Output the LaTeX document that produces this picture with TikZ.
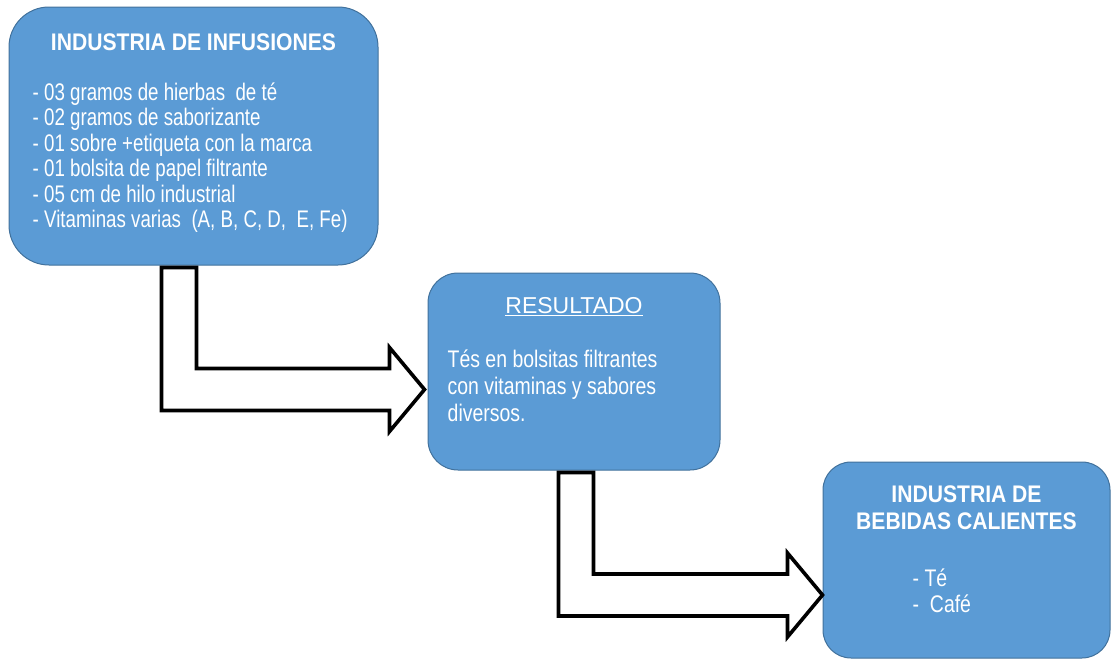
\documentclass[tikz,border=0pt]{standalone}
\usepackage{fontspec}
\setmainfont{Liberation Sans}
\newfontfamily\titlefont[FakeStretch=0.88]{Liberation Sans}
\newfontfamily\listfont[FakeStretch=0.78]{Liberation Sans}
\newfontfamily\bodyfont[FakeStretch=0.81]{Liberation Sans}
\usetikzlibrary{calc}
\definecolor{boxblue}{RGB}{91,155,213}
\definecolor{boxedge}{RGB}{65,113,156}

\begin{document}
\begin{tikzpicture}[x=1pt,y=-1pt,
	box/.style={draw=boxedge,line width=1pt,fill=boxblue,inner sep=0pt},
	head/.style={text=white,font=\titlefont\bfseries\fontsize{24}{27}\selectfont,anchor=base,inner sep=0pt},
	item/.style={text=white,font=\listfont\fontsize{24}{25}\selectfont,anchor=base west,inner sep=0pt},
	body/.style={text=white,font=\bodyfont\fontsize{24}{27}\selectfont,anchor=base west,inner sep=0pt},
	bent/.style={draw=black,line width=3.6pt,fill=white,line join=miter}]
		\useasboundingbox (0,0) rectangle (1111,667);
		
		% Draw boxes
		\node[box,rounded corners=40pt,minimum width=369pt,minimum height=258pt] (inf) at (193.5,136) {};
		\node[box,rounded corners=30pt,minimum width=292pt,minimum height=197pt] (res) at (574,371.5) {};
		\node[box,rounded corners=28pt,minimum width=287pt,minimum height=196pt] (beb) at (966.5,560) {};
		
		% Draw bent arrows
		\coordinate (s1) at ($(inf.south west)+(153,2)$);
		\coordinate (t1) at ($(res.west)+(-3,18)$);
		\coordinate (s2) at ($(res.south west)+(131,2)$);
		\coordinate (t2) at ($(beb.west)+(0,35)$);
		\foreach \s/\t in {s1/t1, s2/t2}{
			\draw[bent] (\s) -- ++(35,0) |- ($(\t)+(-35,-21)$) -- ($(\t)+(-35,-42)$) -- (\t)
				-- ($(\t)+(-35,42)$) -- ($(\t)+(-35,21)$) -| (\s) -- cycle;
		}
		
		% Texts of the first box
		\node[head] (infT) at ($(inf.north)+(0,44)$) {INDUSTRIA DE INFUSIONES};
		\foreach \l [count=\i] in {{- 03 gramos de hierbas~ de té}, {- 02 gramos de saborizante},
			{- 01 sobre +etiqueta con la marca}, {- 01 bolsita de papel filtrante},
			{- 05 cm de hilo industrial}, {- Vitaminas varias~ (A, B, C, D,~ E, Fe)}}{
			\node[item] (infL\i) at ($(inf.north west)+(24,{68.6+25.4*\i})$) {\l};
		}
		
		% Texts of the second box
		\node[head,font=\normalfont\fontsize{23}{27}\selectfont] (resT) at ($(res.north)+(0,41)$) {\underline{RESULTADO}};
		\foreach \l [count=\i] in {Tés en bolsitas filtrantes, con vitaminas y sabores, diversos.}{
			\node[body] (resL\i) at ($(res.north west)+(20,{68+27*\i})$) {\l};
		}
		
		% Texts of the third box
		\node[head] (bebT1) at ($(beb.north)+(0,41)$) {INDUSTRIA DE};
		\node[head] (bebT2) at ($(beb.north)+(0,68)$) {BEBIDAS CALIENTES};
		\node[body] (bebL1) at ($(beb.north west)+(90,125)$) {- Té};
		\node[body] (bebL2) at ($(beb.north west)+(90,151)$) {-~~Café};
	\end{tikzpicture}
\end{document}
